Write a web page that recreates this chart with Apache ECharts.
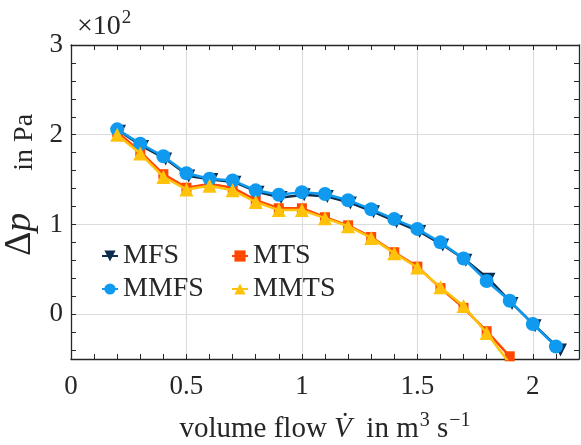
<!DOCTYPE html>
<html>
<head>
<meta charset="utf-8">
<script src="https://cdn.jsdelivr.net/npm/echarts@6/dist/echarts.min.js"></script>
<style>
  html, body { margin: 0; padding: 0; background: #ffffff; }
  #chart { width: 581px; height: 445px; }
</style>
</head>
<body>
<div id="chart"></div>
<script>
// Pressure rise Δp (in units of 10² Pa) against volume flow for four set-ups
const xMFS  = [0.21, 0.31, 0.41, 0.51, 0.61, 0.71, 0.81, 0.91, 1.01, 1.11, 1.21, 1.31, 1.41, 1.51, 1.61, 1.71, 1.81, 1.91, 2.01, 2.12];
const yMFS  = [2.04, 1.87, 1.73, 1.54, 1.50, 1.47, 1.36, 1.30, 1.33, 1.31, 1.24, 1.14, 1.03, 0.92, 0.77, 0.60, 0.39, 0.12, -0.13, -0.40];

const xMTS  = [0.2, 0.3, 0.4, 0.5, 0.6, 0.7, 0.8, 0.9, 1.0, 1.1, 1.2, 1.3, 1.4, 1.5, 1.6, 1.7, 1.8, 1.9];
const yMTS  = [2.03, 1.81, 1.56, 1.41, 1.45, 1.41, 1.27, 1.18, 1.18, 1.08, 0.99, 0.86, 0.69, 0.53, 0.29, 0.07, -0.19, -0.47];

const xMMFS = [0.2, 0.3, 0.4, 0.5, 0.6, 0.7, 0.8, 0.9, 1.0, 1.1, 1.2, 1.3, 1.4, 1.5, 1.6, 1.7, 1.8, 1.9, 2.0, 2.1];
const yMMFS = [2.06, 1.90, 1.76, 1.57, 1.51, 1.49, 1.38, 1.33, 1.36, 1.34, 1.27, 1.17, 1.06, 0.95, 0.80, 0.62, 0.37, 0.15, -0.11, -0.36];

const xMMTS = [0.2, 0.3, 0.4, 0.5, 0.6, 0.7, 0.8, 0.9, 1.0, 1.1, 1.2, 1.3, 1.4, 1.5, 1.6, 1.7, 1.8, 1.9];
const yMMTS = [2.00, 1.79, 1.53, 1.39, 1.43, 1.38, 1.25, 1.16, 1.16, 1.07, 0.98, 0.85, 0.68, 0.52, 0.30, 0.09, -0.21, -0.55];

// Axis ticks, labels and grid positions
const xTicks  = [0, 0.1, 0.2, 0.3, 0.4, 0.5, 0.6, 0.7, 0.8, 0.9, 1.0, 1.1, 1.2, 1.3, 1.4, 1.5, 1.6, 1.7, 1.8, 1.9, 2.0, 2.1, 2.2];
const xLabels = [0, 0.5, 1, 1.5, 2];
const yTicks  = [-0.4, -0.2, 0, 0.2, 0.4, 0.6, 0.8, 1.0, 1.2, 1.4, 1.6, 1.8, 2.0, 2.2, 2.4, 2.6, 2.8, 3.0];
const yLabels = [0, 1, 2, 3];
const xGrid   = [0.5, 1, 1.5, 2];
const yGrid   = [0, 1, 2];

const FONT = 'Liberation Serif';
const INK = '#262626';

const zip = (xs, ys) => xs.map((x, i) => [x, ys[i]]);

const chart = echarts.init(document.getElementById('chart'), null, { renderer: 'canvas' });

const axisLineStyle = { color: INK, width: 1.3 };
const labelStyle = { fontFamily: FONT, fontSize: 27, color: INK };

function lineSeries(name, xs, ys, color, symbol, size, z, rotate) {
  return {
    name: name,
    type: 'line',
    data: zip(xs, ys),
    symbol: symbol,
    symbolSize: size,
    symbolRotate: rotate || 0,
    showAllSymbol: true,
    clip: true,
    z: z,
    lineStyle: { color: color, width: 2.5 },
    itemStyle: { color: color },
    emphasis: { disabled: true },
    animation: false
  };
}

const legendText = { fontFamily: FONT, fontSize: 28, color: INK };

chart.setOption({
  animation: false,
  backgroundColor: '#ffffff',
  title: {
    text: '{t|×10}{s|2}',
    left: 72,
    top: 4,
    textStyle: {
      fontWeight: 'normal',
      rich: {
        t: { fontFamily: FONT, fontSize: 28, fontWeight: 'normal', color: INK, verticalAlign: 'bottom' },
        s: { fontFamily: FONT, fontSize: 19, fontWeight: 'normal', color: INK, verticalAlign: 'bottom', padding: [0, 0, 13, 1] }
      }
    }
  },
  grid: { left: 71, right: 2, top: 45, bottom: 86, outerBoundsMode: 'none', containLabel: false },
  legend: [
    {
      data: ['MFS', 'MMFS'],
      orient: 'vertical',
      left: 96,
      top: 237,
      itemGap: 5,
      itemWidth: 16,
      itemHeight: 14,
      textStyle: legendText
    },
    {
      data: ['MTS', 'MMTS'],
      orient: 'vertical',
      left: 226,
      top: 237,
      itemGap: 5,
      itemWidth: 16,
      itemHeight: 14,
      textStyle: legendText
    }
  ],
  xAxis: [
    {
      type: 'value',
      position: 'bottom',
      min: 0,
      max: 2.2,
      axisLine: { show: true, onZero: false, lineStyle: axisLineStyle },
      axisTick: { show: true, inside: true, length: 5, customValues: xTicks, lineStyle: { color: INK, width: 1 } },
      axisLabel: Object.assign({ customValues: xLabels, margin: 14 }, labelStyle),
      splitLine: { show: false },
      name: '{a|volume flow }{i|V̇}{a|  in m}{s|3}{a| s}{s|−1}',
      nameLocation: 'middle',
      nameGap: 52,
      nameTextStyle: {
        rich: {
          a: { fontFamily: FONT, fontSize: 29, color: INK, verticalAlign: 'bottom' },
          i: { fontFamily: FONT, fontSize: 29, fontStyle: 'italic', color: INK, verticalAlign: 'bottom' },
          s: { fontFamily: FONT, fontSize: 20, color: INK, verticalAlign: 'bottom', padding: [0, 0, 13, 1] }
        }
      }
    },
    {
      type: 'value',
      position: 'top',
      min: 0,
      max: 2.2,
      axisLine: { show: true, onZero: false, lineStyle: axisLineStyle },
      axisTick: { show: true, inside: true, length: 5, customValues: xTicks, lineStyle: { color: INK, width: 1 } },
      axisLabel: { show: false },
      splitLine: { show: false }
    }
  ],
  yAxis: [
    {
      type: 'value',
      position: 'left',
      min: -0.5,
      max: 3,
      axisLine: { show: true, onZero: false, lineStyle: axisLineStyle },
      axisTick: { show: true, inside: true, length: 5, customValues: yTicks, lineStyle: { color: INK, width: 1 } },
      axisLabel: Object.assign({ customValues: yLabels, margin: 8 }, labelStyle),
      splitLine: { show: false },
      name: '{d|Δ}{p|p}{a|      in Pa}',
      nameLocation: 'middle',
      nameRotate: 90,
      nameGap: 31,
      nameTextStyle: {
        padding: [0, 0, 0, 34],
        rich: {
          d: { fontFamily: FONT, fontSize: 38, color: INK, verticalAlign: 'bottom' },
          p: { fontFamily: FONT, fontSize: 38, fontStyle: 'italic', color: INK, verticalAlign: 'bottom' },
          a: { fontFamily: FONT, fontSize: 28, color: INK, verticalAlign: 'bottom' }
        }
      }
    },
    {
      type: 'value',
      position: 'right',
      min: -0.5,
      max: 3,
      axisLine: { show: true, onZero: false, lineStyle: axisLineStyle },
      axisTick: { show: true, inside: true, length: 5, customValues: yTicks, lineStyle: { color: INK, width: 1 } },
      axisLabel: { show: false },
      splitLine: { show: false }
    }
  ],
  series: [
    {
      name: 'grid',
      type: 'line',
      data: [],
      z: 0,
      silent: true,
      markLine: {
        z: 0,
        silent: true,
        animation: false,
        symbol: ['none', 'none'],
        label: { show: false },
        lineStyle: { color: '#dcdcdc', width: 1.2, type: 'solid' },
        emphasis: { disabled: true },
        data: xGrid.map(v => ({ xAxis: v })).concat(yGrid.map(v => ({ yAxis: v })))
      }
    },
    lineSeries('MFS',  xMFS,  yMFS,  '#0b2d4f', 'triangle', 13, 2, 180),
    lineSeries('MTS',  xMTS,  yMTS,  '#ff4800', 'rect', 10, 3),
    lineSeries('MMFS', xMMFS, yMMFS, '#0f9af0', 'circle', 14, 4),
    lineSeries('MMTS', xMMTS, yMMTS, '#ffc20a', 'triangle', 14, 5)
  ]
});
</script>
</body>
</html>
